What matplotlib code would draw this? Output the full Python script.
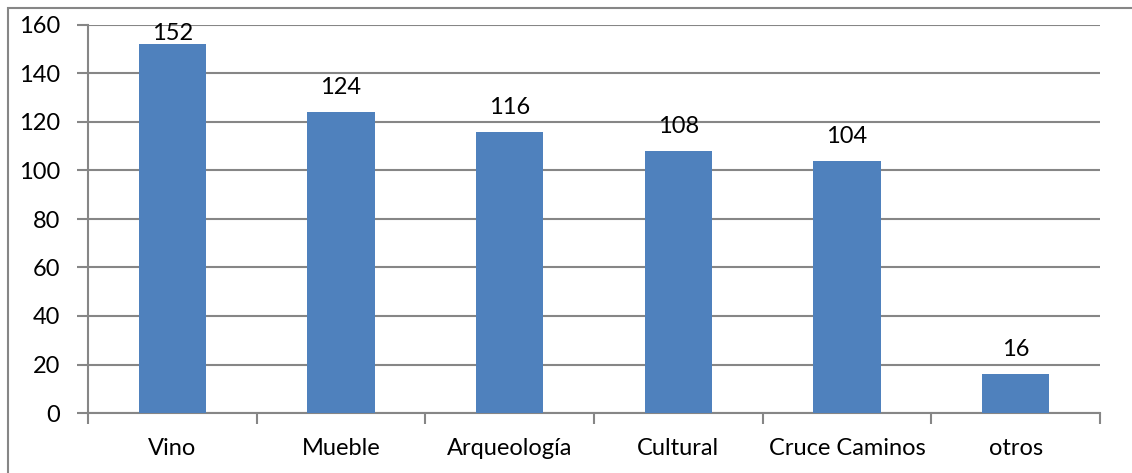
import matplotlib
matplotlib.use("Agg")
import matplotlib.pyplot as plt
from matplotlib.patches import Rectangle

CATEGORIES = ["Vino", "Mueble", "Arqueología", "Cultural", "Cruce Caminos", "otros"]
VALUES = [152, 124, 116, 108, 104, 16]
Y_TICKS = [0, 20, 40, 60, 80, 100, 120, 140, 160]

BAR_COLOR = "#4f81bd"
LINE_COLOR = "#868686"
FONT_SIZE = 17

plt.rcParams["font.family"] = ["Lato", "DejaVu Sans"]

fig = plt.figure(figsize=(11.32, 4.73), dpi=100)
ax = fig.add_axes([88 / 1132, 1 - 413 / 473, (1100 - 88) / 1132, (413 - 25) / 473])

x = list(range(len(CATEGORIES)))
y_max = Y_TICKS[-1]
ax.bar(x, VALUES, width=0.4, color=BAR_COLOR, zorder=3)
for xi, v in zip(x, VALUES):
    if v > y_max * 0.9:
        # label pushed inside the plot area, like the spreadsheet does
        ax.annotate(str(v), (xi, y_max), xytext=(0, -6), textcoords="offset points",
                    ha="center", va="center", fontsize=FONT_SIZE, zorder=4)
    else:
        ax.annotate(str(v), (xi, v), xytext=(0, 10), textcoords="offset points",
                    ha="center", va="bottom", fontsize=FONT_SIZE, zorder=4)

ax.set_xlim(-0.5, len(CATEGORIES) - 0.5)
ax.set_ylim(0, y_max)
ax.set_yticks(Y_TICKS)
ax.set_xticks(x)
ax.set_xticklabels(CATEGORIES)
ax.set_xticks([i - 0.5 for i in range(len(CATEGORIES) + 1)], minor=True)
ax.tick_params(axis="x", which="major", length=0, pad=18, labelsize=FONT_SIZE)
ax.tick_params(axis="x", which="minor", length=8, width=1.5, color=LINE_COLOR, direction="out")
ax.tick_params(axis="y", length=8, width=1.5, color=LINE_COLOR, direction="out", pad=12,
               labelsize=FONT_SIZE)

ax.grid(axis="y", color=LINE_COLOR, linewidth=1.5, zorder=0)
for side in ["top", "right"]:
    ax.spines[side].set_visible(False)
for side in ["left", "bottom"]:
    ax.spines[side].set_color(LINE_COLOR)
    ax.spines[side].set_linewidth(1.5)

# outer chart frame (only top and left edges fall inside the picture)
fig.patches.append(Rectangle((8 / 1132, -0.1), 1.2, 1.1 - 8 / 473, transform=fig.transFigure,
                             fill=False, edgecolor=LINE_COLOR, linewidth=1.5))

fig.savefig("out.png", dpi=100)
